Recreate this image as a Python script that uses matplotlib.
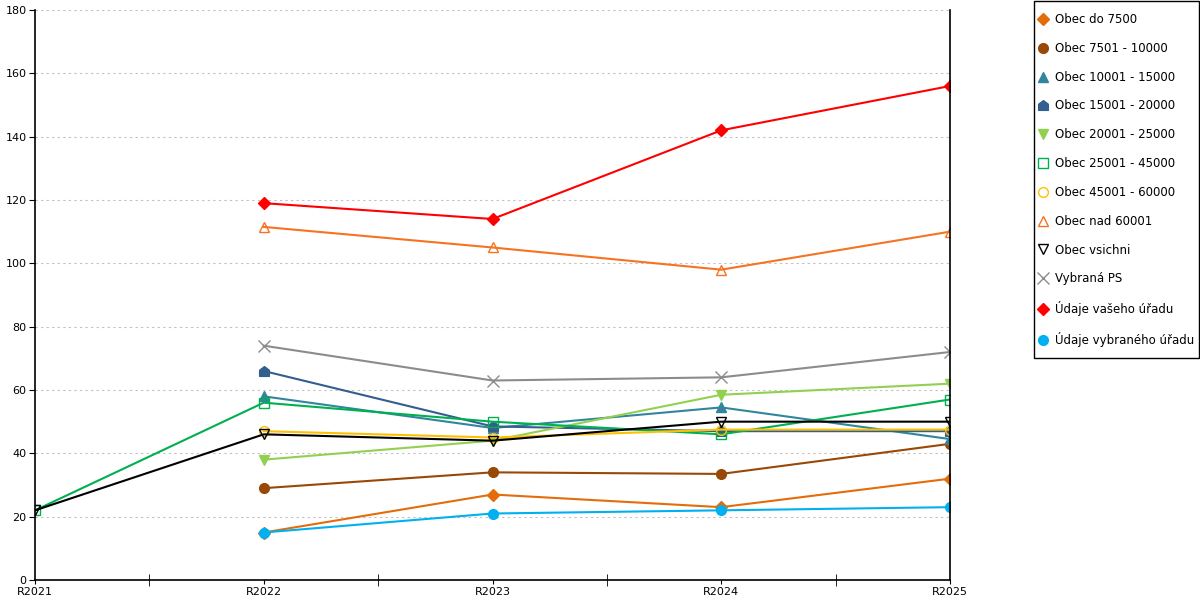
import numpy as np
import matplotlib.pyplot as plt
from matplotlib.lines import Line2D
from matplotlib.patches import Rectangle
from matplotlib.path import Path

years = ["R2021", "R2022", "R2023", "R2024", "R2025"]
nan = np.nan

# values per series, one per year (nan = missing)
obec_do_7500 = [nan, 15, 27, 23, 32]
obec_7501_10000 = [nan, 29, 34, 33.5, 43]
obec_10001_15000 = [nan, 58, 48, 54.5, 44.5]
obec_15001_20000 = [nan, 66, 48.5, 47, 47]
obec_20001_25000 = [nan, 38, 44, 58.5, 62]
obec_25001_45000 = [22, 56, 50, 46, 57]
obec_45001_60000 = [nan, 47, 45, 47.5, 47.5]
obec_nad_60001 = [nan, 111.5, 105, 98, 110]
obec_vsichni = [22, 46, 44, 50, 50]
vybrana_ps = [nan, 74, 63, 64, 72]
udaje_vaseho = [nan, 119, 114, 142, 156]
udaje_vybraneho = [nan, 15, 21, 22, 23]

# house shaped marker
house = Path([(-1, -1), (1, -1), (1, 0.25), (0, 1), (-1, 0.25), (-1, -1)],
             [Path.MOVETO] + [Path.LINETO] * 4 + [Path.CLOSEPOLY])

series = [
    ("Obec do 7500", obec_do_7500, "#E46C0A", "D", True),
    ("Obec 7501 - 10000", obec_7501_10000, "#984807", "o", True),
    ("Obec 10001 - 15000", obec_10001_15000, "#31859C", "^", True),
    ("Obec 15001 - 20000", obec_15001_20000, "#335E90", house, True),
    ("Obec 20001 - 25000", obec_20001_25000, "#92D050", "v", True),
    ("Obec 25001 - 45000", obec_25001_45000, "#00B050", "s", False),
    ("Obec 45001 - 60000", obec_45001_60000, "#FFC000", "o", False),
    ("Obec nad 60001", obec_nad_60001, "#F57321", "^", False),
    ("Obec vsichni", obec_vsichni, "#000000", "v", False),
    ("Vybraná PS", vybrana_ps, "#8C8C8C", "x", False),
    ("Údaje vašeho úřadu", udaje_vaseho, "#FF0000", "D", True),
    ("Údaje vybraného úřadu", udaje_vybraneho, "#00B0F0", "o", True),
]

fig = plt.figure(figsize=(12, 6), dpi=100)
ax = fig.add_axes([35 / 1200, 20 / 600, 915 / 1200, 570 / 600])

x = np.arange(len(years))
handles = []
for label, vals, col, mk, filled in series:
    ms = 7 if mk not in ("D",) else 6
    if mk == "x":
        ms = 9
    face = col if filled else "none"
    y = np.array(vals, dtype=float)
    ax.plot(x, y, color=col, lw=1.5, marker=mk, ms=ms,
            markerfacecolor=face, markeredgecolor=col, markeredgewidth=1.0)
    handles.append(Line2D([], [], ls="none", marker=mk, ms=ms, color=col,
                          markerfacecolor=face, markeredgecolor=col,
                          markeredgewidth=1.0, label=label))

ax.set_xlim(0, 4)
ax.set_ylim(0, 180)
ax.set_yticks(np.arange(0, 181, 20))
ax.set_xticks(x)
ax.set_xticklabels(years)
ax.set_xticks(x[:-1] + 0.5, minor=True)
ax.grid(axis="y", color="#C0C0C0", ls=(0, (2, 3)), lw=0.8)
ax.set_axisbelow(True)

ax.spines["top"].set_visible(False)
for s in ("left", "bottom", "right"):
    ax.spines[s].set_color("black")
    ax.spines[s].set_linewidth(1.2)
ax.tick_params(axis="both", labelsize=8, colors="black", direction="out", length=3, pad=2)
ax.tick_params(axis="x", which="minor", length=8, direction="inout")
ax.tick_params(axis="y", length=4)

# legend box drawn separately so the padding matches
fig.patches.append(Rectangle((1034 / 1200, 242 / 600), 165 / 1200, 357 / 600,
                             transform=fig.transFigure, fill=False,
                             edgecolor="black", lw=1.0))
leg = fig.legend(handles=handles, loc="upper left",
                 bbox_to_anchor=(1040 / 1200, 587 / 600),
                 fontsize=8.5, frameon=False,
                 handlelength=0.5, handletextpad=0.75, labelspacing=1.34,
                 borderpad=0, borderaxespad=0)

fig.savefig("out.png", dpi=100)
